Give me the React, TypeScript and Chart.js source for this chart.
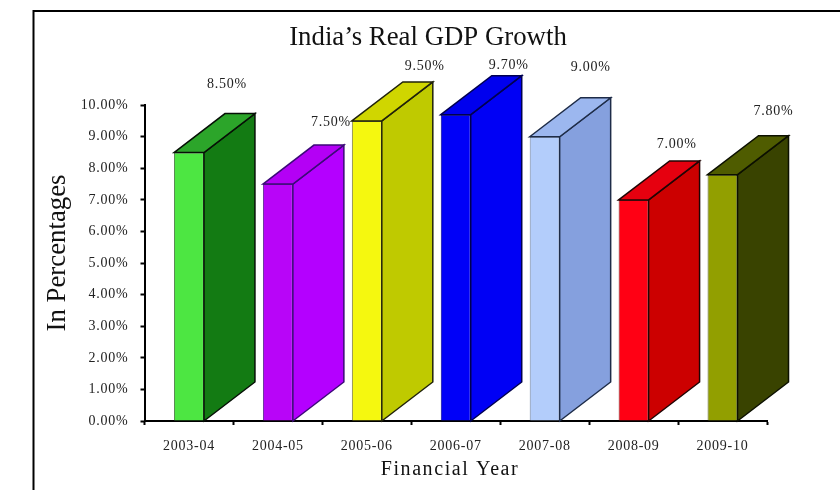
import { useEffect, useRef } from "react";
import { Chart, registerables } from "chart.js";

Chart.register(...registerables);

const categories = ["2003-04", "2004-05", "2005-06", "2006-07", "2007-08", "2008-09", "2009-10"];
const growth = [8.5, 7.5, 9.5, 9.7, 9.0, 7.0, 7.8];
const frontColors = ["#4de642", "#b805f8", "#f5f80f", "#0000f8", "#b3cdfb", "#ff0014", "#929f00"];
const sideColors = ["#137b13", "#b400ff", "#bfca00", "#0000f5", "#85a0de", "#cc0000", "#394300"];
const topColors = ["#2ca52a", "#b400f5", "#d0d600", "#0000ee", "#9cb7ef", "#e6000f", "#4f5c00"];
const edgeColors = ["#061006", "#3c0a78", "#20220a", "#000050", "#1e2c48", "#200404", "#0c1000"];
const frontEdgeColors = ["#5a8a55", "#5a2a90", "#77774a", "#000090", "#70809a", "#802020", "#555c20"];

const SERIF = "'Liberation Serif', serif";
const DEPTH_X = 51;
const DEPTH_Y = 39;
// Where each value label sits relative to the top centre of its bar's front face.
const labelShifts: [number, number][] = [
  [38, -68],
  [53, -62],
  [58, -55],
  [53, -49],
  [46, -69],
  [43, -56],
  [51, -63],
];

const polygon = (ctx: CanvasRenderingContext2D, pts: number[][], fill: string, edge: string) => {
  ctx.beginPath();
  pts.forEach(([x, y], i) => (i ? ctx.lineTo(x, y) : ctx.moveTo(x, y)));
  ctx.closePath();
  ctx.fillStyle = fill;
  ctx.fill();
  ctx.strokeStyle = edge;
  ctx.lineWidth = 1.5;
  ctx.stroke();
};

// Tick labels are slightly tracked out; the heading stays set solid.
const trackTickLabels = (scale: any) => {
  if (scale.__tracked) return;
  scale.__tracked = true;
  const drawLabels = scale.drawLabels.bind(scale);
  scale.drawLabels = (area: any) => {
    scale.ctx.save();
    scale.ctx.letterSpacing = "0.75px";
    drawLabels(area);
    scale.ctx.restore();
  };
};

const boxPlugin = {
  id: "box3d",
  beforeLayout(chart: any) {
    trackTickLabels(chart.scales.x);
    trackTickLabels(chart.scales.y);
  },
  afterLayout(chart: any) {
    // Centre the heading over the plot's visual middle.
    chart.titleBlock.left = 88;
    chart.titleBlock.right = 768;
  },
  beforeDraw(chart: any) {
    const { ctx } = chart;
    ctx.save();
    ctx.strokeStyle = "#000";
    ctx.lineWidth = 2;
    ctx.beginPath();
    ctx.moveTo(33.5, 490);
    ctx.lineTo(33.5, 11);
    ctx.lineTo(840, 11);
    ctx.stroke();
    ctx.restore();
  },
  afterDatasetsDraw(chart: any) {
    const { ctx, scales } = chart;
    const meta = chart.getDatasetMeta(0);
    const base = scales.y.getPixelForValue(0);
    ctx.save();
    meta.data.forEach((bar: any, i: number) => {
      const half = bar.width / 2;
      const l = bar.x - half;
      const r = bar.x + half;
      const t = bar.y;
      polygon(
        ctx,
        [[r, base], [r + DEPTH_X, base - DEPTH_Y], [r + DEPTH_X, t - DEPTH_Y], [r, t]],
        sideColors[i],
        edgeColors[i],
      );
      polygon(
        ctx,
        [[l, t], [l + DEPTH_X, t - DEPTH_Y], [r + DEPTH_X, t - DEPTH_Y], [r, t]],
        topColors[i],
        edgeColors[i],
      );
    });
    ctx.letterSpacing = "0.75px";
    ctx.font = `14px ${SERIF}`;
    ctx.fillStyle = "#222";
    ctx.textAlign = "center";
    ctx.textBaseline = "middle";
    meta.data.forEach((bar: any, i: number) => {
      ctx.fillText(`${growth[i].toFixed(2)}%`, bar.x + labelShifts[i][0], bar.y + labelShifts[i][1]);
    });
    ctx.restore();
  },
  afterDraw(chart: any) {
    const { ctx } = chart;
    ctx.save();
    ctx.fillStyle = "#111";
    ctx.textAlign = "center";
    ctx.textBaseline = "middle";
    ctx.letterSpacing = "1.6px";
    ctx.font = `20px ${SERIF}`;
    ctx.fillText("Financial Year", 450, 470);
    ctx.letterSpacing = "0px";
    ctx.font = `26.8px ${SERIF}`;
    ctx.translate(58, 253);
    ctx.rotate(-Math.PI / 2);
    ctx.fillText("In Percentages", 0, 0);
    ctx.restore();
  },
};

export default function App() {
  const ref = useRef<HTMLCanvasElement>(null);
  useEffect(() => {
    document.body.style.margin = "0";
    document.body.style.overflow = "hidden";
    const chart = new Chart(ref.current!, {
      type: "bar",
      data: {
        labels: categories,
        datasets: [
          {
            label: "Real GDP Growth",
            data: growth,
            backgroundColor: frontColors,
            borderColor: frontEdgeColors,
            borderWidth: 1,
            barPercentage: 0.337,
            categoryPercentage: 1,
          },
        ],
      },
      options: {
        responsive: false,
        animation: false,
        layout: { padding: { left: 29.5, right: 73, top: 0, bottom: 0 } },
        plugins: {
          legend: { display: false },
          tooltip: { enabled: false },
          title: {
            display: true,
            text: "India\u2019s Real GDP Growth",
            color: "#111",
            font: { family: SERIF, size: 26.8, weight: "normal", lineHeight: 1.2 },
            padding: { top: 22, bottom: 51 },
          },
        },
        scales: {
          x: {
            afterFit: (s: any) => {
              s.height = 69;
            },
            border: { color: "#000", width: 2 },
            grid: {
              offset: true,
              drawOnChartArea: false,
              drawTicks: true,
              tickLength: 4,
              tickWidth: 2,
              tickColor: "#000",
            },
            ticks: {
              color: "#222",
              padding: 13,
              maxRotation: 0,
              font: { family: SERIF, size: 14 },
            },
          },
          y: {
            min: 0,
            max: 10,
            afterFit: (s: any) => {
              s.width = 115;
            },
            border: { color: "#000", width: 2 },
            grid: {
              drawOnChartArea: false,
              drawTicks: true,
              tickLength: 4,
              tickWidth: 2,
              tickColor: "#000",
            },
            ticks: {
              stepSize: 1,
              color: "#222",
              padding: 12,
              font: { family: SERIF, size: 14 },
              callback: (v: any) => `${Number(v).toFixed(2)}%`,
            },
          },
        },
      },
      plugins: [boxPlugin],
    } as any);
    return () => chart.destroy();
  }, []);
  return <canvas ref={ref} width={840} height={490} style={{ display: "block" }} />;
}
